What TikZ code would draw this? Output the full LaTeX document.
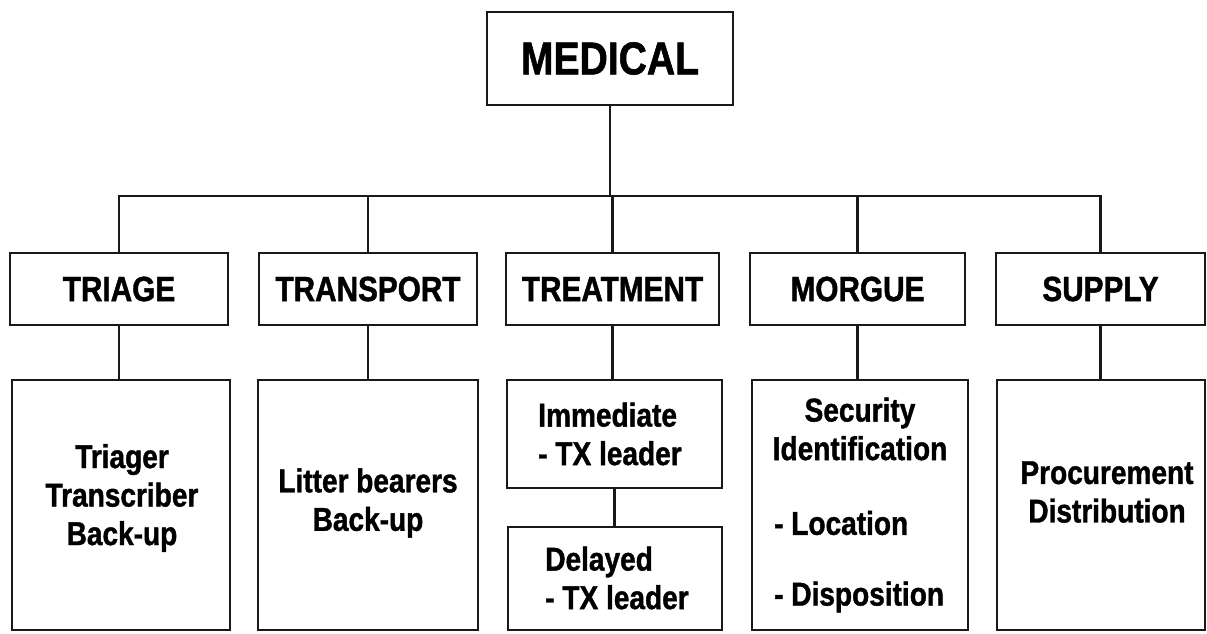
\documentclass[tikz,border=0pt]{standalone}
\usepackage{fontspec}
\newfontfamily\cf[FakeStretch=0.85,FakeBold=1.2]{Liberation Sans}
\begin{document}
\begin{tikzpicture}[x=1pt,y=-1pt,
  box/.style={draw=black!90, line width=2.8pt, rectangle, inner sep=0pt},
  toplbl/.style={font=\cf\bfseries\fontsize{46}{50}\selectfont},
  lbl/.style={font=\cf\bfseries\fontsize{35}{40}\selectfont},
  sub/.style={font=\cf\bfseries\fontsize{33}{38.5}\selectfont, inner sep=0pt, align=center},
  conn/.style={draw=black!90, line width=2.8pt}]
\useasboundingbox[fill=white] (0,0) rectangle (1207,633);

% top
\node[box, toplbl, minimum width=246pt, minimum height=93pt] (med) at (610,58.5) {MEDICAL};

% row 2
\node[box, lbl, minimum width=218pt, minimum height=72pt] (triage) at (119,289) {TRIAGE};
\node[box, lbl, minimum width=218pt, minimum height=72pt] (transport) at (368,289) {TRANSPORT};
\node[box, lbl, minimum width=213pt, minimum height=72pt] (treatment) at (612.5,289) {TREATMENT};
\node[box, lbl, minimum width=215pt, minimum height=72pt] (morgue) at (857.5,289) {MORGUE};
\node[box, lbl, minimum width=209pt, minimum height=72pt] (supply) at (1100.5,289) {SUPPLY};

% row 3 boxes
\node[box, minimum width=218pt, minimum height=250pt] (triagesub) at (121,505) {};
\node[box, minimum width=220pt, minimum height=250pt] (transportsub) at (368,505) {};
\node[box, minimum width=215pt, minimum height=108pt] (imm) at (614.5,434) {};
\node[box, minimum width=214pt, minimum height=103pt] (del) at (615,578.5) {};
\node[box, minimum width=216pt, minimum height=250pt] (morguesub) at (860,505) {};
\node[box, minimum width=208pt, minimum height=250pt] (supplysub) at (1101,505) {};

% row 3 texts
\node[sub] (t1) at (122,498) {Triager\\Transcriber\\Back-up};
\node[sub] (t2) at (368,503) {Litter bearers\\Back-up};
\node[sub, align=left] (t3) at (610,434) {Immediate\\- TX leader};
\node[sub, align=left] (t4) at (617,578) {Delayed\\- TX leader};
\node[sub] (t5) at (860,429) {Security\\Identification};
\node[sub, anchor=west] (t6) at (774,523) {- Location};
\node[sub, anchor=west] (t7) at (774,597) {- Disposition};
\node[sub] (t8) at (1107,492) {Procurement\\Distribution};

% connectors
\coordinate (bar) at (0,196);
\draw[conn] (med.south) -- (med.south |- bar);
\draw[conn] (triage.north) -- (triage.north |- bar) -- (supply.north |- bar) -- (supply.north);
\draw[conn] (transport.north) -- (transport.north |- bar);
\draw[conn] (treatment.north) -- (treatment.north |- bar);
\draw[conn] (morgue.north) -- (morgue.north |- bar);

\draw[conn] (triage.south) -- (triage.south |- triagesub.north);
\draw[conn] (transport.south) -- (transport.south |- transportsub.north);
\draw[conn] (treatment.south) -- (treatment.south |- imm.north);
\draw[conn] (imm.south) -- (imm.south |- del.north);
\draw[conn] (morgue.south) -- (morgue.south |- morguesub.north);
\draw[conn] (supply.south) -- (supply.south |- supplysub.north);
\end{tikzpicture}
\end{document}
